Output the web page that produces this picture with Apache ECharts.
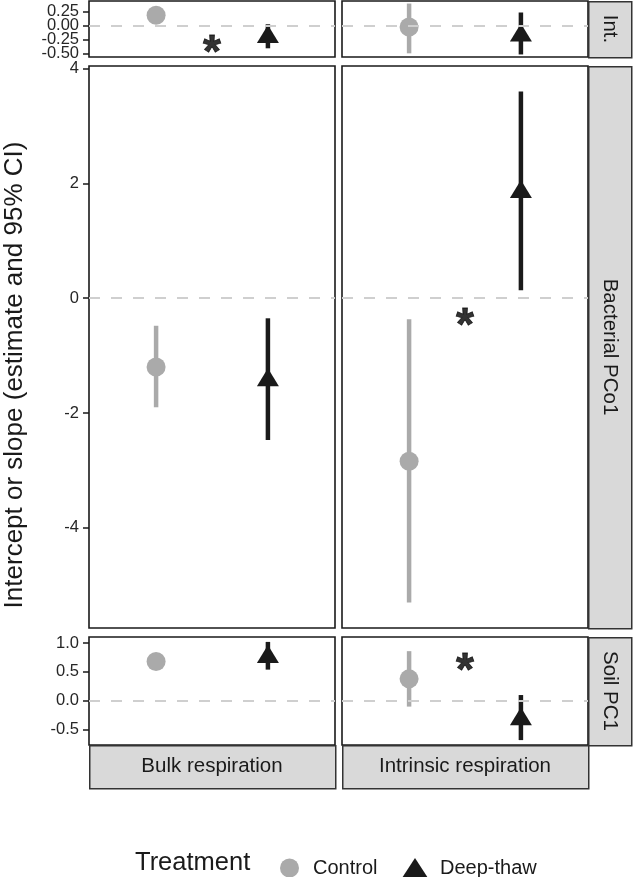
<!DOCTYPE html>
<html>
<head>
<meta charset="utf-8">
<script src="https://cdn.jsdelivr.net/npm/echarts@6/dist/echarts.min.js"></script>
<style>
  html, body { margin: 0; padding: 0; background: #fff; }
  #main { width: 634px; height: 877px; }
</style>
</head>
<body>
<div id="main"></div>
<script>
// facets
var rowNames = ['Int.', 'Bacterial PCo1', 'Soil PC1'];
var colNames = ['Bulk respiration', 'Intrinsic respiration'];
var treatments = ['Control', 'Deep-thaw'];

// estimates and 95% CI, [row][col]
var controlEst = [[0.19, -0.02], [-1.20, -2.84], [0.68, 0.38]];
var controlLo  = [[0.08, -0.49], [-1.90, -5.30], [0.55, -0.10]];
var controlHi  = [[0.30, 0.40], [-0.48, -0.365], [0.81, 0.86]];
var thawEst = [[-0.20, -0.17], [-1.43, 1.85], [0.76, -0.32]];
var thawLo  = [[-0.40, -0.51], [-2.47, 0.14], [0.54, -0.68]];
var thawHi  = [[0.03, 0.24], [-0.35, 3.60], [1.02, 0.10]];

// significance stars: row, col, y (x sits between the two treatments)
var starRow = [0, 1, 2];
var starCol = [0, 1, 1];
var starY = [-0.31, -0.31, 0.68];

// y tick values and labels per row
var tickVals = [[-0.5, -0.25, 0, 0.25], [-4, -2, 0, 2, 4], [-0.5, 0, 0.5, 1]];
var tickLabels = [['-0.50', '-0.25', '0.00', '0.25'], ['-4', '-2', '0', '2', '4'], ['-0.5', '0.0', '0.5', '1.0']];

var FONT = '"Liberation Sans", Arial, Helvetica, sans-serif';
var GREY = '#aaaaaa', BLACK = '#1a1a1a';

// panel layout
var colLeft = [89, 342], colW = 246;
var rowTop = [1, 66, 637], rowH = [56, 562, 108];

// y limits like ggplot: data range + 5% each side
function rowLimits(r) {
  var vals = controlLo[r].concat(controlHi[r], thawLo[r], thawHi[r]);
  var lo = Math.min.apply(null, vals), hi = Math.max.apply(null, vals);
  var pad = (hi - lo) * 0.05;
  return [lo - pad, hi + pad];
}

var grids = [], xAxes = [], yAxes = [], series = [], graphics = [];

function errRender(color) {
  return function (params, api) {
    var p1 = api.coord([api.value(0), api.value(1)]);
    var p2 = api.coord([api.value(0), api.value(2)]);
    return {
      type: 'line',
      shape: { x1: p1[0], y1: p1[1], x2: p2[0], y2: p2[1] },
      style: { stroke: color, lineWidth: 4.5 }
    };
  };
}

// a y axis showing every other tick of a row (labels are too close for one axis in the top row)
function makeYAxis(gi, lim, row, parity, visible) {
  var vals = tickVals[row].filter(function (v, i) { return i % 2 === parity; });
  return {
    gridIndex: gi, type: 'value', min: lim[0], max: lim[1], position: 'left',
    show: visible,
    axisLine: { show: false },
    splitLine: { show: false },
    axisTick: { show: true, length: 6, customValues: vals, lineStyle: { color: '#1a1a1a', width: 1.5 } },
    axisLabel: {
      show: true, customValues: vals, margin: 10, hideOverlap: false,
      fontFamily: FONT, fontSize: 16.5, color: '#262626',
      formatter: function (v) {
        var i = tickVals[row].indexOf(v);
        return i >= 0 ? tickLabels[row][i] : '';
      }
    }
  };
}

for (var r = 0; r < 3; r++) {
  var lim = rowLimits(r);
  for (var c = 0; c < 2; c++) {
    var gi = grids.length;
    grids.push({
      left: colLeft[c], top: rowTop[r], width: colW, height: rowH[r],
      show: true, borderColor: '#1a1a1a', borderWidth: 1.6, backgroundColor: '#fff'
    });
    xAxes.push({ gridIndex: gi, type: 'value', min: 0.4, max: 2.6, show: false });
    var yi = yAxes.length;
    yAxes.push(makeYAxis(gi, lim, r, 0, c === 0));
    if (c === 0) yAxes.push(makeYAxis(gi, lim, r, 1, true));

    // dashed zero line
    series.push({
      type: 'scatter', xAxisIndex: gi, yAxisIndex: yi, z: 1, silent: true,
      data: [[1.5, 0]], symbolSize: 0,
      markLine: {
        silent: true, symbol: 'none', label: { show: false },
        lineStyle: { type: [11, 11], color: '#cfcfcf', width: 2 },
        data: [{ yAxis: 0 }]
      }
    });
    series.push({
      type: 'custom', name: 'ci-control', xAxisIndex: gi, yAxisIndex: yi, z: 2,
      renderItem: errRender(GREY), data: [[1, controlLo[r][c], controlHi[r][c]]]
    });
    series.push({
      type: 'custom', name: 'ci-thaw', xAxisIndex: gi, yAxisIndex: yi, z: 2,
      renderItem: errRender(BLACK), data: [[2, thawLo[r][c], thawHi[r][c]]]
    });
    series.push({
      type: 'scatter', name: 'Control', xAxisIndex: gi, yAxisIndex: yi, z: 3,
      symbol: 'circle', symbolSize: 19, itemStyle: { color: GREY, opacity: 1 },
      data: [[1, controlEst[r][c]]]
    });
    series.push({
      type: 'scatter', name: 'Deep-thaw', xAxisIndex: gi, yAxisIndex: yi, z: 3,
      symbol: 'triangle', symbolSize: [22, 18], symbolOffset: [0, -3],
      itemStyle: { color: BLACK, opacity: 1 },
      data: [[2, thawEst[r][c]]]
    });

    // star for this panel, if any
    for (var s = 0; s < starRow.length; s++) {
      if (starRow[s] !== r || starCol[s] !== c) continue;
      series.push({
        type: 'scatter', xAxisIndex: gi, yAxisIndex: yi, z: 4, silent: true,
        symbolSize: 0, data: [[1.5, starY[s]]],
        label: {
          show: true, position: 'inside', formatter: '*', offset: [0, 11],
          fontFamily: FONT, fontSize: 46, fontWeight: 'bold', color: '#000',
          textBorderColor: '#000', textBorderWidth: 0.8
        }
      });
    }
  }
}

// strips
for (var r2 = 0; r2 < 3; r2++) {
  graphics.push({
    type: 'rect', left: 588, top: rowTop[r2], silent: true,
    shape: { width: 43, height: rowH[r2] },
    style: { fill: '#d9d9d9', stroke: '#333', lineWidth: 1.5 }
  });
  graphics.push({
    type: 'text', x: 609.5, y: rowTop[r2] + rowH[r2] / 2, rotation: -Math.PI / 2, silent: true,
    style: { text: rowNames[r2], font: '20.5px ' + FONT, fill: BLACK, align: 'center', verticalAlign: 'middle' }
  });
}
for (var c2 = 0; c2 < 2; c2++) {
  graphics.push({
    type: 'rect', left: colLeft[c2], top: 745, silent: true,
    shape: { width: colW, height: 43 },
    style: { fill: '#d9d9d9', stroke: '#333', lineWidth: 1.5 }
  });
  graphics.push({
    type: 'text', x: colLeft[c2] + colW / 2, y: 766.5, silent: true,
    style: { text: colNames[c2], font: '20.5px ' + FONT, fill: BLACK, align: 'center', verticalAlign: 'middle' }
  });
}
// y axis title
graphics.push({
  type: 'text', x: 15, y: 375, rotation: Math.PI / 2, silent: true,
  style: { text: 'Intercept or slope (estimate and 95% CI)', font: '26px ' + FONT, fill: BLACK, align: 'center', verticalAlign: 'middle' }
});
// legend title
graphics.push({
  type: 'text', x: 135, y: 863, silent: true,
  style: { text: 'Treatment', font: '25.5px ' + FONT, fill: BLACK, align: 'left', verticalAlign: 'middle' }
});

var option = {
  animation: false,
  backgroundColor: '#fff',
  grid: grids,
  xAxis: xAxes,
  yAxis: yAxes,
  legend: [{
    left: 275, top: 853,
    itemWidth: 19, itemHeight: 19, selectedMode: false,
    data: [{ name: treatments[0], icon: 'circle' }],
    textStyle: { fontFamily: FONT, fontSize: 20, color: BLACK, padding: [0, 0, 0, 9] }
  }, {
    left: 397, top: 853,
    itemWidth: 26, itemHeight: 20, selectedMode: false,
    data: [{ name: treatments[1], icon: 'triangle' }],
    textStyle: { fontFamily: FONT, fontSize: 20, color: BLACK, padding: [0, 0, 0, 7] }
  }],
  graphic: graphics,
  series: series
};

var myChart = echarts.init(document.getElementById('main'));
myChart.setOption(option);
</script>
</body>
</html>
